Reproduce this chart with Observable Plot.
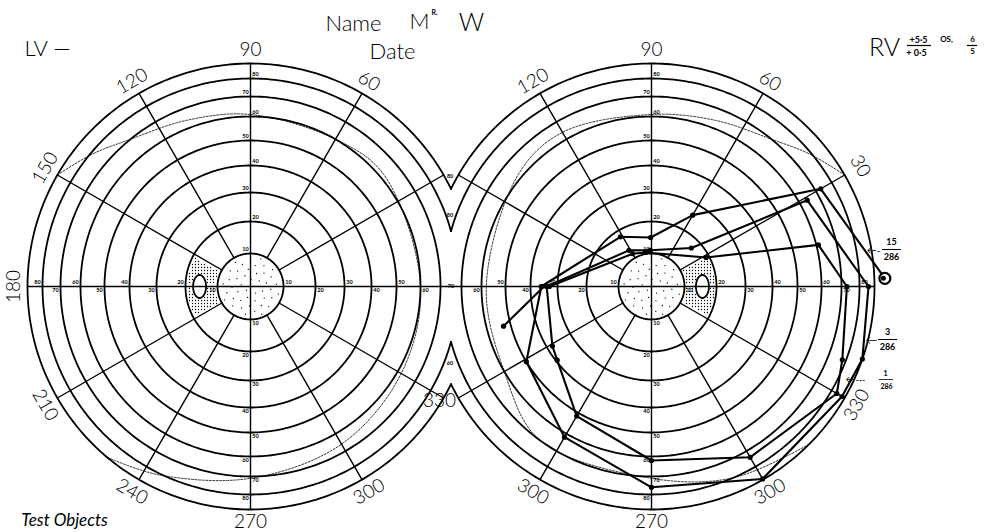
<!DOCTYPE html>
<html><head><meta charset="utf-8">
<script src="https://cdn.jsdelivr.net/npm/d3@7"></script>
<script src="https://cdn.jsdelivr.net/npm/@observablehq/plot@0.6"></script>
<style>
html,body{margin:0;padding:0;background:#fff}
#chart{width:989px;height:532px;overflow:hidden}
</style></head><body><div id="chart"></div>
<script>
// ------------------------------------------------------------ data
const meridians = [0,30,60,90,120,150,180,210,240,270,300,330];
const rings = [10,20,30,40,50,60,70,80,90];
const axisTicks = [10,20,30,40,50,60,70,80];

const leftLabelAngles = [90,120,60,150,180,210,240,270,300,330];
const leftLabelTexts  = ["90","120","60","150","180","210","240","270","300","330"];
const rightLabelAngles = [90,120,60,30,240,270,300,330];
const rightLabelTexts  = ["90","120","60","30","300","270","300","330"];

// normal visual field outline (dashed) : [meridian deg, eccentricity deg]
const leftNormal  = [[150,90],[140,79],[130,70.5],[111,64],[90,61],[60,60],[40,62],[0,60],[-30,62],[-60,66],[-90,71],[-116,81],[-130,90]];
const rightNormal = [[30,90],[40,79],[50,70.5],[69,64],[90,61],[120,64],[140,62],[180,58],[210,60],[234,70],[270,71],[293,80],[315,90]];

// isopters plotted on the right field : [meridian deg, eccentricity deg]
const iso15 = [[180,36],[122,18],[91,15],[60,26],[30,73],[2,97]];
const iso3  = [[180,34],[122,13],[92,11],[44,17],[29,64],[0,86],[341,90],[330,88],[300,89.5],[270,76],[240,62],[211,50],[180,36]];
const iso1  = [[180,33],[120,11.5],[100,10.5],[28,19],[14,61],[0,73],[339,78],[330,84],[300,74],[270,62],[240,51.5],[218,39.5],[211,38],[180,34]];
const isoSpur = [[180,35],[195,53]];
const isoLabels = ["15","3","1"];
const isoLabelDen = "286";

// ------------------------------------------------------------ layout / scale
const W = 989, H = 532;
const centers = {L:{x:250,y:286}, R:{x:651,y:286}};
const cutX = (centers.L.x + centers.R.x)/2;
const half = cutX - centers.L.x;
// perimeter chart radial scale (eccentricity -> radius)
const rad = d3.scaleLinear().domain([0,10,20,30,40,50,60,70,80,90]).range([0,33,65,94,121,146,170,190,208,223]);
const OUT = rad(90);
const toRad = a => a*Math.PI/180;
function P(side, ang, ecc){
  const c = centers[side], r = rad(ecc);
  return {x: c.x + r*Math.cos(toRad(ang)), y: c.y - r*Math.sin(toRad(ang))};
}
function PR(side, ang, r){
  const c = centers[side];
  return {x: c.x + r*Math.cos(toRad(ang)), y: c.y - r*Math.sin(toRad(ang))};
}

// rings (clipped where the two fields meet)
const ringPts = [];
for (const side of ["L","R"]) {
  for (const e of rings) {
    const r = rad(e);
    let a0, a1;
    if (r > half) {
      const ac = Math.acos(half/r)*180/Math.PI;
      if (side==="L") {a0 = ac; a1 = 360-ac;} else {a0 = -(180-ac); a1 = 180-ac;}
    } else {a0 = 0; a1 = 360;}
    const n = Math.ceil(a1-a0);
    for (let i=0;i<=n;i++){ const a = a0 + (a1-a0)*i/n; ringPts.push({...PR(side,a,r), id: side+e}); }
  }
}
// meridians
const merPts = [];
for (const side of ["L","R"]) {
  for (const a of meridians) {
    const start = (a % 90 === 0) ? 0 : rad(10);
    let end = OUT;
    const cs = Math.cos(toRad(a));
    if (side==="L" && cs > 0.001) end = Math.min(end, half/cs);
    if (side==="R" && cs < -0.001) end = Math.min(end, -half/cs);
    merPts.push({...PR(side,a,start), id: side+"m"+a}, {...PR(side,a,end), id: side+"m"+a});
  }
}
// meridian labels
function rot(a){ a = ((a%360)+360)%360; return a<=180 ? 90-a : 270-a; }
const merLabels = [];
leftLabelAngles.forEach((a,i)=>{
  if (a===330) merLabels.push({...PR("L",328.8,221), t:leftLabelTexts[i], r:0});
  else merLabels.push({...PR("L",a,a===270?235:237), t:leftLabelTexts[i], r:rot(a)});
});
rightLabelAngles.forEach((a,i)=>{
  const rr = a===30 ? 241 : a===270 ? 235 : 237;
  merLabels.push({...PR("R",a,rr), t:rightLabelTexts[i], r:rot(a)});
});
// axis tick labels
const tickLabels = [];
for (const side of ["L","R"]) {
  const c = centers[side];
  const innerSign = side==="L" ? 1 : -1;
  for (const e of axisTicks) {
    const even = (e/10)%2===0;
    const r = rad(e)+5;
    tickLabels.push({x: c.x + (even?5:-5), y: c.y - r + 1, t: String(e)});
    tickLabels.push({x: c.x + (even?-5:5), y: c.y + r - 1, t: String(e)});
    tickLabels.push({x: c.x - innerSign*r, y: c.y + (even?-4:4), t: String(e)});
    if (e <= 60) tickLabels.push({x: c.x + innerSign*r, y: c.y + (even?4:-4), t: String(e)});
  }
}
// small labels where the two fields meet
const joinLabels = [{...PR("L",0,half), t:"70"}, {...PR("L",26.5,OUT), t:"80"}, {...PR("L",16.4,rad(80)), t:"80"}, {...PR("L",-16.4,rad(80)), t:"60"}];
joinLabels[1].y -= 11; joinLabels[2].y -= 13; joinLabels[3].y += 18;

// dashed normal fields
const normPts = [...leftNormal.map(([a,e])=>({...P("L",a,e), id:"L"})), ...rightNormal.map(([a,e])=>({...P("R",a,e), id:"R"}))];
// isopters
const isoLines = [];
[[iso15,"a"],[iso3,"b"],[iso1,"c"],[isoSpur,"s"]].forEach(([arr,id])=>arr.forEach(([a,e])=>isoLines.push({...P("R",a,e), id})));
const isoDots = [...iso3, ...iso1, ...iso15.slice(0,-1), isoSpur[1]].map(([a,e])=>P("R",a,e));
const eyeMark = P("R", iso15[iso15.length-1][0], iso15[iso15.length-1][1]);

// stipple: central disc + blind spot sectors
const stip = [];
const N = 46;
for (const side of ["L","R"]) {
  const c = centers[side];
  for (let i=0;i<N;i++){ const r = (rad(10)-3)*Math.sqrt((i+0.5)/N); const th = i*2.39996; stip.push({x:c.x + r*Math.cos(th), y:c.y + r*Math.sin(th)}); }
}
const ellipses = [];
for (const side of ["L","R"]) {
  const ang = side==="L"?180:0;
  const ec = P(side, ang, 15.6);
  for (let i=0;i<=36;i++){ const t=i*10*Math.PI/180; ellipses.push({x:ec.x+6.5*Math.cos(t), y:ec.y+11.5*Math.sin(t), id:side}); }
  const c = centers[side];
  for (let gx=-70; gx<=70; gx+=3) for (let gy=-40; gy<=40; gy+=3) {
    const x = c.x+gx, y = c.y+gy; const r = Math.hypot(gx,gy);
    let a = Math.atan2(-gy,gx)*180/Math.PI; if (side==="L") a = (a+360)%360;
    const inA = side==="L" ? (a>=153 && a<=207) : (a>=-27 && a<=27);
    if (!inA || r < rad(10)+2 || r > rad(20)-2) continue;
    if (((x-ec.x)/8)**2 + ((y-ec.y)/13)**2 < 1) continue;
    if (Math.abs(gy) < 2) continue;
    stip.push({x,y});
  }
}

// ------------------------------------------------------------ plot
const font = "Lato, 'DejaVu Sans', sans-serif";
const txt = (data, o) => Plot.text(data, {x:"x", y:"y", text:"t", fill:"black", fontFamily:font, ...o});
const annot = isoLabels.map((n,i)=>({t:n, i}));
const plot = Plot.plot({
  width: W, height: H, margin: 0,
  x: {domain:[0,W], axis:null},
  y: {domain:[0,H], range:[0,H], axis:null},
  style: {background:"white"},
  marks: [
    Plot.line(normPts, {x:"x", y:"y", z:"id", stroke:"black", strokeWidth:0.8, strokeDasharray:"2,1.5", curve:"catmull-rom"}),
    Plot.line(ringPts, {x:"x", y:"y", z:"id", stroke:"black", strokeWidth:1.8}),
    Plot.line(merPts, {x:"x", y:"y", z:"id", stroke:"black", strokeWidth:1.4}),
    Plot.dot(stip, {x:"x", y:"y", r:0.65, fill:"black"}),
    Plot.line(ellipses, {x:"x", y:"y", z:"id", stroke:"black", strokeWidth:1.8, curve:"catmull-rom"}),
    txt(tickLabels, {fontSize:5.5, fontWeight:"bold"}),
    txt(joinLabels, {fontSize:5.5, fontWeight:"bold"}),
    txt(merLabels, {rotate:"r", fontSize:19, fontWeight:300}),
    Plot.line(isoLines, {x:"x", y:"y", z:"id", stroke:"black", strokeWidth:2.1, strokeLinejoin:"round"}),
    Plot.dot(isoDots, {x:"x", y:"y", r:2.6, fill:"black"}),
    Plot.dot([eyeMark], {x:"x", y:"y", r:5.5, stroke:"black", strokeWidth:2.2, fill:"white"}),
    Plot.dot([eyeMark], {x:"x", y:"y", r:2.5, fill:"black", dx:-1.5}),
    // header texts
    txt([{x:353,y:23,t:"Name"}], {fontSize:22, fontWeight:300}),
    txt([{x:419,y:21,t:"M"}], {fontSize:22, fontWeight:300}),
    txt([{x:434,y:12,t:"R."}], {fontSize:7, fontWeight:"bold"}),
    txt([{x:471,y:22,t:"W"}], {fontSize:25, fontWeight:300}),
    txt([{x:392,y:51,t:"Date"}], {fontSize:22, fontWeight:300}),
    txt([{x:47,y:48,t:"LV —"}], {fontSize:22, fontWeight:300}),
    txt([{x:884,y:47,t:"RV"}], {fontSize:25, fontWeight:300}),
    txt([{x:918,y:40,t:"+5·5"}], {fontSize:9, fontWeight:"bold"}),
    txt([{x:946,y:39,t:"OS,"}], {fontSize:8, fontWeight:"bold"}),
    txt([{x:972,y:39,t:"6"},{x:972,y:51,t:"5"}], {fontSize:8, fontWeight:"bold"}),
    txt([{x:916,y:53,t:"+ 0·5"}], {fontSize:9, fontWeight:"bold"}),
    Plot.ruleY([45], {x1:907, x2:931, stroke:"black", strokeWidth:1.2}),
    Plot.ruleY([45], {x1:967, x2:977, stroke:"black", strokeWidth:1.2}),
    txt([{x:64,y:520,t:"Test Objects"}], {fontSize:17, fontStyle:"italic"}),
    // test object annotations
    txt([{x:873,y:250,t:"←-"}], {fontSize:10}),
    txt([{x:891,y:242,t:annot[0].t},{x:891,y:257,t:isoLabelDen}], {fontSize:9, fontWeight:"bold"}),
    Plot.ruleY([249], {x1:882, x2:901, stroke:"black", strokeWidth:1}),
    txt([{x:871,y:340,t:"←"}], {fontSize:12}),
    txt([{x:887,y:332,t:annot[1].t},{x:887,y:347,t:isoLabelDen}], {fontSize:9, fontWeight:"bold"}),
    Plot.ruleY([339], {x1:878, x2:897, stroke:"black", strokeWidth:1}),
    txt([{x:855,y:379,t:"←-·-"}], {fontSize:10}),
    txt([{x:885,y:373,t:annot[2].t},{x:886,y:386,t:isoLabelDen}], {fontSize:7, fontWeight:"bold"}),
    Plot.ruleY([379], {x1:879, x2:893, stroke:"black", strokeWidth:0.8})
  ]
});
document.getElementById("chart").append(plot);
</script></body></html>
